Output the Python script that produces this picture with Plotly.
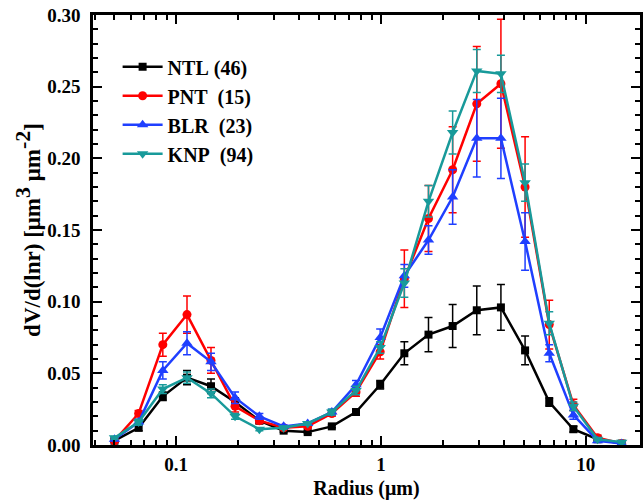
import plotly.graph_objects as go

radius = [0.05, 0.0656, 0.0861, 0.113, 0.148, 0.194, 0.255, 0.335, 0.439, 0.576, 0.756,
          0.992, 1.302, 1.708, 2.241, 2.940, 3.857, 5.061, 6.641, 8.713, 11.432, 15.0]

ntl = [0.003, 0.012, 0.034, 0.047, 0.041, 0.030, 0.017, 0.010, 0.009, 0.013, 0.023,
       0.042, 0.064, 0.077, 0.083, 0.094, 0.096, 0.066, 0.030, 0.011, 0.004, 0.001]
ntl_err = [0.001, 0.002, 0.003, 0.005, 0.005, 0.003, 0.002, 0.001, 0.001, 0.001, 0.002,
           0.003, 0.008, 0.012, 0.015, 0.017, 0.016, 0.010, 0.003, 0.002, 0.001, 0.001]

pnt = [0.003, 0.022, 0.070, 0.091, 0.059, 0.027, 0.017, 0.012, 0.013, 0.022, 0.037,
       0.065, 0.116, 0.158, 0.192, 0.238, 0.252, 0.180, 0.084, 0.028, 0.005, 0.001]
pnt_err = [0.001, 0.002, 0.008, 0.013, 0.009, 0.004, 0.002, 0.001, 0.001, 0.002, 0.003,
           0.005, 0.020, 0.023, 0.030, 0.040, 0.045, 0.035, 0.017, 0.004, 0.002, 0.001]

blr = [0.004, 0.016, 0.052, 0.071, 0.058, 0.033, 0.020, 0.013, 0.015, 0.023, 0.042,
       0.075, 0.118, 0.143, 0.173, 0.214, 0.214, 0.142, 0.064, 0.021, 0.003, 0.001]
blr_err = [0.001, 0.002, 0.006, 0.008, 0.006, 0.004, 0.002, 0.001, 0.001, 0.002, 0.003,
           0.006, 0.008, 0.010, 0.019, 0.027, 0.028, 0.020, 0.006, 0.003, 0.001, 0.001]

knp = [0.005, 0.016, 0.039, 0.047, 0.036, 0.020, 0.011, 0.012, 0.015, 0.023, 0.038,
       0.068, 0.113, 0.170, 0.218, 0.261, 0.259, 0.183, 0.085, 0.027, 0.004, 0.002]
knp_err = [0.001, 0.002, 0.003, 0.004, 0.003, 0.002, 0.001, 0.001, 0.001, 0.002, 0.003,
           0.004, 0.010, 0.011, 0.015, 0.015, 0.013, 0.013, 0.008, 0.003, 0.001, 0.001]

series = [
    ("NTL\u00a0(46)", ntl, ntl_err, "#000000", "square", 8),
    ("PNT\u00a0\u00a0(15)", pnt, pnt_err, "#ff0000", "circle", 9),
    ("BLR\u00a0\u00a0(23)", blr, blr_err, "#1f3fff", "triangle-up", 10),
    ("KNP\u00a0\u00a0(94)", knp, knp_err, "#189a9a", "triangle-down", 10),
]

fig = go.Figure()
for name, vals, errs, color, sym, msize in series:
    fig.add_trace(go.Scatter(
        x=radius, y=vals, name=name, mode="lines+markers",
        line=dict(color=color, width=2.5),
        marker=dict(symbol=sym, size=msize, color=color),
        error_y=dict(type="data", array=errs, visible=True, color=color,
                     thickness=1.5, width=4),
    ))

font_family = "Liberation Serif, Times New Roman, serif"
fig.update_layout(
    width=644, height=501,
    margin=dict(l=93, r=1, t=15, b=56),
    plot_bgcolor="white", paper_bgcolor="white",
    font=dict(family=font_family, size=18, color="black"),
    showlegend=True,
    legend=dict(x=0.045, y=0.925, xanchor="left", yanchor="top",
                bgcolor="rgba(0,0,0,0)",
                font=dict(size=20, family=font_family, weight="bold"),
                itemwidth=40, tracegroupgap=0),
    xaxis=dict(
        type="log", range=[-1.406, 1.2655],
        tickvals=[0.1, 1, 10], ticktext=["0.1", "1", "10"],
        ticks="inside", ticklen=9, tickwidth=2, tickcolor="black",
        minor=dict(ticks="inside", ticklen=5, tickwidth=1.5, tickcolor="black", dtick="D1"),
        showline=True, linewidth=2.5, linecolor="black", mirror="allticks",
        showgrid=False, zeroline=False,
        title=dict(text="Radius (μm)", font=dict(size=20, weight="bold"), standoff=8),
        tickfont=dict(size=19, weight="bold"),
    ),
    yaxis=dict(
        range=[0, 0.30], dtick=0.05, tickformat=".2f",
        ticks="inside", ticklen=9, tickwidth=2, tickcolor="black",
        minor=dict(ticks="inside", ticklen=5, tickwidth=1.5, tickcolor="black", dtick=0.01),
        showline=True, linewidth=2.5, linecolor="black", mirror="allticks",
        showgrid=False, zeroline=False, ticklabelstandoff=6,
        title=dict(text="dV/d(lnr) [μm<sup><span style='font-size:22px'>3</span></sup> μm<sup><span style='font-size:22px'>-2</span></sup>]",
                   font=dict(size=23, weight="bold"), standoff=1),
        tickfont=dict(size=19, weight="bold"),
    ),
)
fig.write_html("out.html")
